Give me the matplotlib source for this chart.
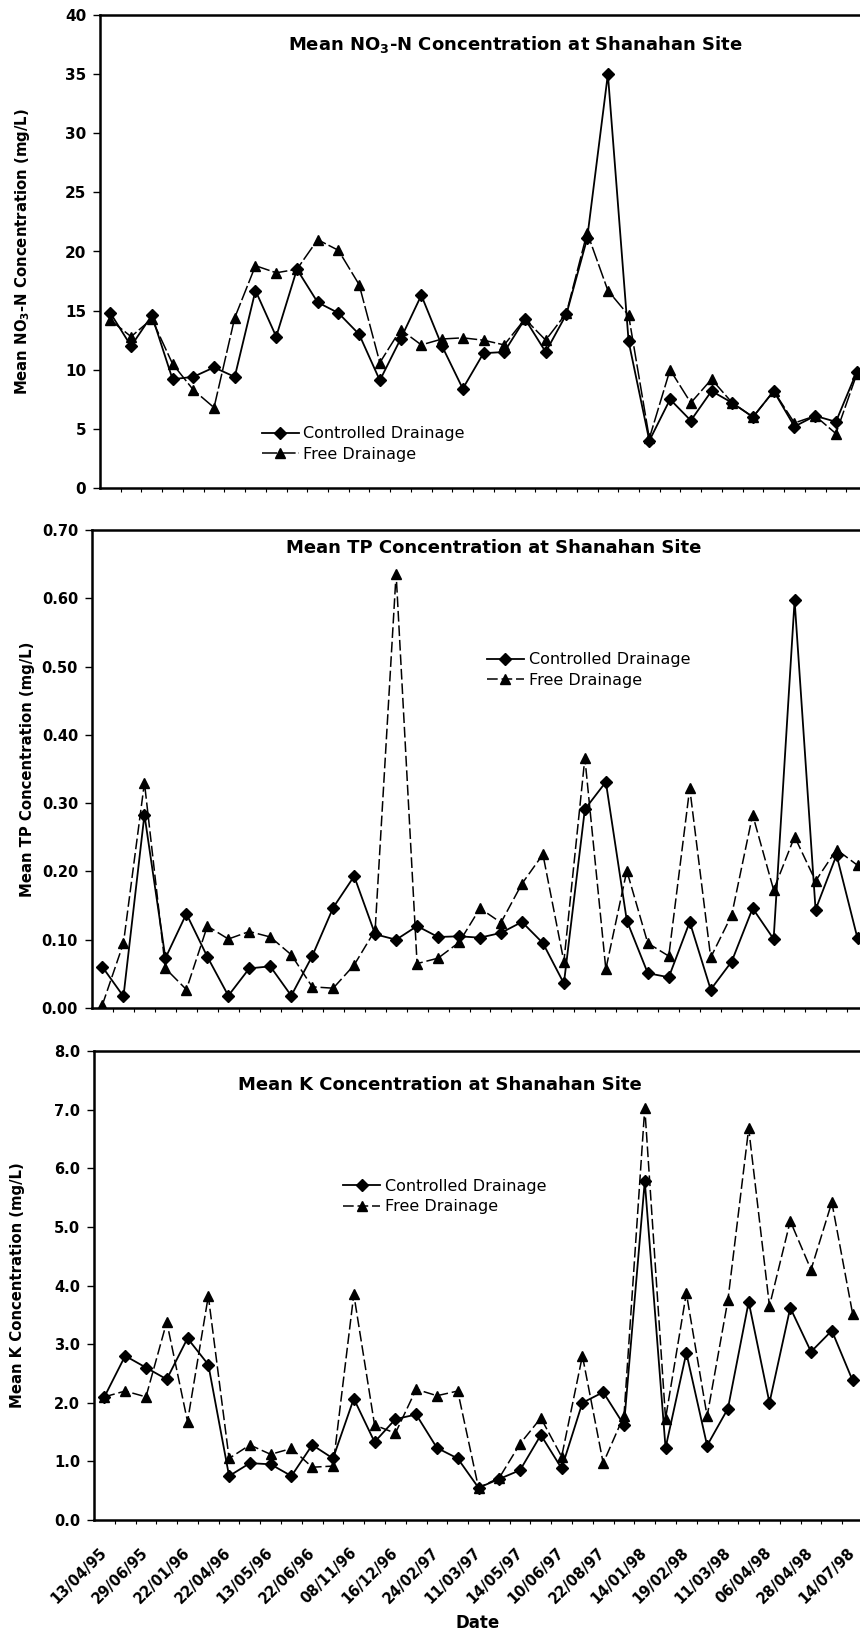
import numpy as np
import matplotlib
matplotlib.use('Agg')
import matplotlib.pyplot as plt

# sampling dates (every second sample is labelled on the axis)
date_labels = ['13/04/95', '29/06/95', '22/01/96', '22/04/96', '13/05/96', '22/06/96',
               '08/11/96', '16/12/96', '24/02/97', '11/03/97', '14/05/97', '10/06/97',
               '22/08/97', '14/01/98', '19/02/98', '11/03/98', '06/04/98', '28/04/98',
               '14/07/98']

no3_controlled = [14.8, 12.0, 14.6, 9.2, 9.4, 10.2, 9.4, 16.7, 12.8, 18.5, 15.7, 14.8, 13.0,
                  9.1, 12.6, 16.3, 12.0, 8.4, 11.4, 11.5, 14.3, 11.5, 14.7, 21.1, 35.0, 12.4,
                  4.0, 7.5, 5.7, 8.2, 7.2, 6.0, 8.2, 5.2, 6.1, 5.6, 9.8]
no3_free = [14.2, 12.8, 14.3, 10.5, 8.3, 6.8, 14.4, 18.8, 18.2, 18.5, 21.0, 20.1, 17.2,
            10.6, 13.4, 12.1, 12.6, 12.7, 12.5, 12.1, 14.3, 12.5, 14.8, 21.6, 16.7, 14.6,
            4.2, 10.0, 7.2, 9.2, 7.2, 6.0, 8.2, 5.5, 6.1, 4.6, 9.6]

tp_controlled = [0.060, 0.017, 0.283, 0.073, 0.138, 0.075, 0.018, 0.058, 0.061, 0.018, 0.076,
                 0.147, 0.193, 0.108, 0.100, 0.120, 0.104, 0.105, 0.103, 0.110, 0.126, 0.095,
                 0.036, 0.291, 0.331, 0.128, 0.051, 0.045, 0.126, 0.027, 0.068, 0.146, 0.101,
                 0.597, 0.144, 0.224, 0.102]
tp_free = [0.005, 0.095, 0.330, 0.058, 0.027, 0.120, 0.101, 0.112, 0.104, 0.078, 0.031,
           0.029, 0.063, 0.114, 0.636, 0.065, 0.073, 0.096, 0.146, 0.125, 0.182, 0.225,
           0.068, 0.366, 0.057, 0.201, 0.095, 0.076, 0.322, 0.074, 0.136, 0.283, 0.173,
           0.251, 0.186, 0.232, 0.209]

k_controlled = [2.1, 2.8, 2.6, 2.4, 3.1, 2.65, 0.75, 0.97, 0.95, 0.75, 1.28, 1.05, 2.07,
                1.33, 1.72, 1.8, 1.23, 1.05, 0.55, 0.7, 0.85, 1.45, 0.88, 2.0, 2.18, 1.62,
                5.78, 1.23, 2.85, 1.27, 1.9, 3.72, 2.0, 3.62, 2.87, 3.23, 2.38]
k_free = [2.1, 2.2, 2.1, 3.38, 1.68, 3.82, 1.05, 1.28, 1.12, 1.22, 0.9, 0.92, 3.85, 1.62,
          1.48, 2.23, 2.12, 2.2, 0.55, 0.72, 1.3, 1.74, 1.08, 2.8, 0.97, 1.78, 7.03, 1.73,
          3.87, 1.77, 3.75, 6.68, 3.65, 5.1, 4.27, 5.42, 3.52]

W, H = 860, 1636


def px_box(left, right, top, bottom):
    return [left / W, 1 - bottom / H, (right - left) / W, (bottom - top) / H]


def draw_panel(fig, box, controlled, free, ymax, ystep, fmt, title, title_xy,
               leg_xy, ylabel, ylabel_x, tick_size, free_dash, show_dates):
    ax = fig.add_axes(px_box(*box))
    x = np.arange(len(controlled))
    ax.plot(x, controlled, color='black', lw=1.3, marker='D', ms=6,
            label='Controlled Drainage')
    ax.plot(x, free, color='black', lw=1.1, marker='^', ms=7, dashes=free_dash,
            label='Free Drainage')

    ax.set_xlim(-0.5, len(controlled) - 0.5)
    ax.set_ylim(0, ymax)
    yt = np.arange(0, ymax + ystep / 2, ystep)
    ax.set_yticks(yt)
    ax.set_yticklabels([fmt.format(v) for v in yt], fontsize=tick_size, fontweight='bold')
    ax.tick_params(axis='y', direction='out', length=5, width=1, pad=5)

    ax.set_xticks(np.arange(0.5, len(controlled) - 1, 1), minor=True)
    ax.tick_params(axis='x', which='minor', direction='out', length=3, width=0.8)
    if show_dates:
        ax.set_xticks(np.arange(0, len(controlled), 2))
        ax.set_xticklabels(date_labels, rotation=45, ha='right', va='center',
                           rotation_mode='anchor', fontsize=10.5, fontweight='bold')
        ax.tick_params(axis='x', which='major', length=0, pad=22)
    else:
        ax.set_xticks([])

    for s in ax.spines.values():
        s.set_linewidth(1.8)

    ax.text(title_xy[0], title_xy[1], title, transform=ax.transAxes, ha='center',
            va='center', fontsize=13, fontweight='bold')
    ax.legend(loc='center left', bbox_to_anchor=leg_xy, frameon=False, fontsize=11.5,
              handlelength=2.3, handletextpad=0.3, labelspacing=0.35, borderpad=0,
              borderaxespad=0)

    cy = (box[2] + box[3]) / 2
    fig.text(ylabel_x / W, 1 - cy / H, ylabel, rotation=90, ha='center', va='center',
             fontsize=10.7, fontweight='bold')
    return ax


fig = plt.figure(figsize=(W / 100, H / 100), dpi=100)

draw_panel(fig, (100, 867, 15, 488), no3_controlled, no3_free, 40, 5, '{:.0f}',
           r'Mean NO$_\mathbf{3}$-N Concentration at Shanahan Site', (0.542, 0.937),
           (0.211, 0.093), r'Mean NO$_\mathbf{3}$-N Concentration (mg/L)', 23,
           11, (10, 2), False)

draw_panel(fig, (92, 868, 530, 1008), tp_controlled, tp_free, 0.7, 0.1, '{:.2f}',
           'Mean TP Concentration at Shanahan Site', (0.518, 0.962),
           (0.509, 0.707), 'Mean TP Concentration (mg/L)', 28,
           10.5, (7, 2.5), False)

ax3 = draw_panel(fig, (94, 863, 1051, 1520), k_controlled, k_free, 8.0, 1.0, '{:.1f}',
                 'Mean K Concentration at Shanahan Site', (0.45, 0.928),
                 (0.324, 0.690), 'Mean K Concentration (mg/L)', 18,
                 10.5, (7, 2.5), True)

fig.text(478 / W, 1 - 1623 / H, 'Date', ha='center', va='center', fontsize=12,
         fontweight='bold')

fig.savefig('out.png', dpi=100)
